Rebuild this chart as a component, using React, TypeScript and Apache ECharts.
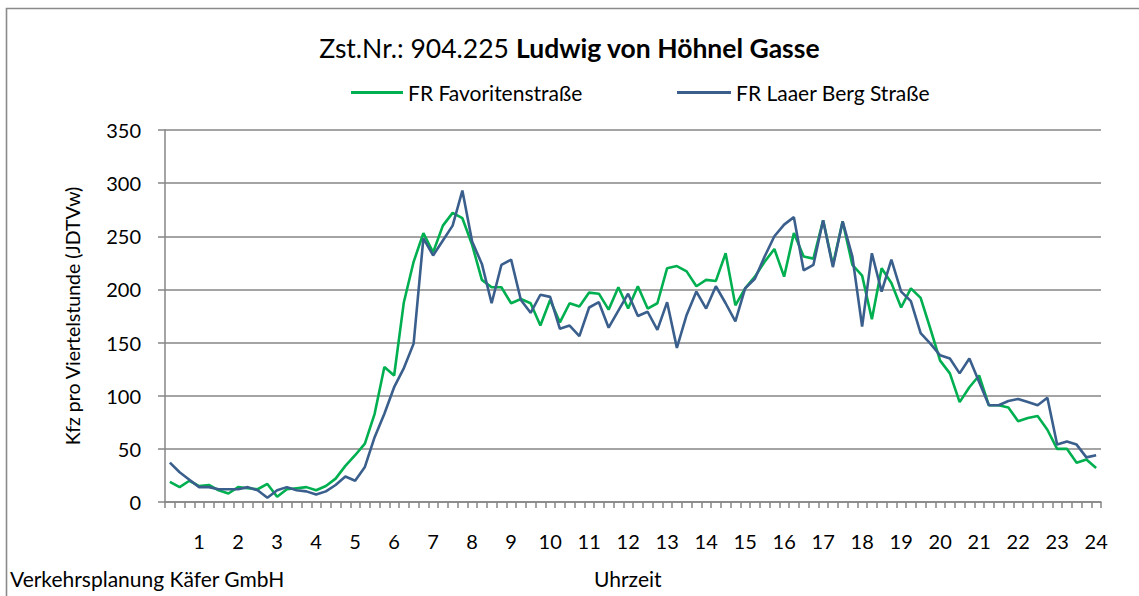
import React, { useEffect, useRef } from "react";
import * as echarts from "echarts";

const hourLabels = ["1","2","3","4","5","6","7","8","9","10","11","12","13","14","15","16","17","18","19","20","21","22","23","24"];
const quarterCategories: string[] = [];
for (let h = 0; h < 24; h++) {
  for (let q = 1; q <= 4; q++) {
    const m = h * 60 + q * 15;
    quarterCategories.push(String(Math.floor(m / 60)).padStart(2, "0") + ":" + String(m % 60).padStart(2, "0"));
  }
}

const favoritenstrasse = [
  19, 14, 20, 15, 16, 11, 8, 14, 13, 12, 17, 5, 12, 13, 14, 11,
  15, 22, 34, 44, 55, 83, 127, 119, 188, 226, 253, 235, 260, 272, 267, 242, 209,
  202, 202, 187, 191, 187, 166, 190, 169, 187, 184, 197, 196, 181, 202, 182, 203,
  182, 187, 220, 222, 217, 203, 209, 208, 234, 185, 201, 212, 226, 238, 212, 253, 231,
  229, 265, 223, 264, 223, 213, 172, 220, 206, 183, 201, 192, 163, 133, 121, 94,
  108, 119, 91, 91, 89, 76, 79, 81, 68, 50, 50, 37, 40, 32,
];

const laaerBergStrasse = [
  37, 28, 21, 14, 14, 12, 12, 12, 14, 11, 4, 11, 14, 11, 10, 7,
  10, 16, 24, 20, 33, 61, 83, 108, 126, 149, 248, 232, 246, 260, 293, 245, 224,
  187, 223, 228, 190, 178, 195, 193, 163, 166, 156, 183, 188, 164, 180, 196, 175,
  179, 162, 188, 145, 176, 198, 182, 203, 187, 170, 201, 210, 231, 250, 261, 268, 218,
  223, 265, 221, 264, 231, 165, 234, 198, 228, 198, 189, 159, 149, 138, 135, 121,
  135, 113, 91, 91, 95, 97, 94, 91, 98, 54, 57, 54, 42, 44,
];

const FONT = "Lato, 'Noto Sans', sans-serif";
const GRAY = "#868686";

export default function App() {
  const ref = useRef<HTMLDivElement>(null);
  useEffect(() => {
    if (!ref.current) return;
    const chart = echarts.init(ref.current, null, { renderer: "svg" });
    chart.setOption({
      animation: false,
      backgroundColor: "#ffffff",
      textStyle: { fontFamily: FONT, color: "#000" },
      title: {
        text: "Zst.Nr.: 904.225 {b|Ludwig von Höhnel Gasse}",
        left: "center",
        top: 29,
        textStyle: {
          fontFamily: FONT,
          fontSize: 26.5,
          fontWeight: "normal",
          color: "#000",
          rich: { b: { fontFamily: FONT, fontSize: 26.5, fontWeight: "bold", color: "#000" } },
        },
      },
      legend: [
        {
          data: ["FR Favoritenstraße"],
          left: 346,
          top: 77,
          icon: "rect",
          itemWidth: 52,
          itemHeight: 3,
          textStyle: { fontFamily: FONT, fontSize: 21, color: "#000" },
        },
        {
          data: ["FR Laaer Berg Straße"],
          left: 672,
          top: 77,
          icon: "rect",
          itemWidth: 54,
          itemHeight: 3,
          textStyle: { fontFamily: FONT, fontSize: 21, color: "#000" },
        },
      ],
      grid: { left: 165, right: 38, top: 130, bottom: 94, containLabel: false },
      xAxis: {
        type: "category",
        data: quarterCategories,
        boundaryGap: true,
        axisLine: { lineStyle: { color: GRAY, width: 1.5 } },
        axisTick: { show: true, interval: 0, length: 6, lineStyle: { color: GRAY, width: 1.5 } },
        axisLabel: {
          interval: (index: number) => index % 4 === 3,
          formatter: (_v: string, index: number) => hourLabels[Math.floor(index / 4)],
          margin: 29,
          fontFamily: FONT,
          fontSize: 20,
          color: "#000",
        },
        splitLine: { show: false },
      },
      yAxis: {
        type: "value",
        min: 0,
        max: 350,
        interval: 50,
        name: "Kfz pro Viertelstunde (JDTVw)",
        nameLocation: "middle",
        nameGap: 83,
        nameTextStyle: { fontFamily: FONT, fontSize: 19.5, color: "#000" },
        axisLine: { show: true, lineStyle: { color: GRAY, width: 1.5 } },
        axisTick: { show: true, length: 7, lineStyle: { color: GRAY, width: 1.5 } },
        axisLabel: { margin: 24, fontFamily: FONT, fontSize: 20, color: "#000" },
        splitLine: { show: true, lineStyle: { color: GRAY, width: 1.5 } },
      },
      series: [
        {
          name: "FR Favoritenstraße",
          type: "line",
          data: favoritenstrasse,
          showSymbol: false,
          symbol: "none",
          lineStyle: { color: "#00B050", width: 2.6 },
          itemStyle: { color: "#00B050" },
        },
        {
          name: "FR Laaer Berg Straße",
          type: "line",
          data: laaerBergStrasse,
          showSymbol: false,
          symbol: "none",
          lineStyle: { color: "#3A5F8D", width: 2.6 },
          itemStyle: { color: "#3A5F8D" },
        },
      ],
      graphic: [
        {
          type: "polyline",
          shape: { points: [[6.5, 600], [6.5, 8.5], [1145, 8.5]] },
          style: { stroke: "#8a8a8a", lineWidth: 1.6, fill: "none" },
          silent: true,
        },
        {
          type: "text",
          left: 10,
          top: 568,
          style: { text: "Verkehrsplanung Käfer GmbH", fontFamily: FONT, fontSize: 21, fill: "#000" },
        },
        {
          type: "text",
          left: 594,
          top: 568,
          style: { text: "Uhrzeit", fontFamily: FONT, fontSize: 21, fill: "#000" },
        },
      ],
    });
    return () => chart.dispose();
  }, []);
  return (
    <div
      ref={ref}
      style={{ position: "absolute", left: 0, top: 0, width: 1139, height: 596 }}
    />
  );
}
